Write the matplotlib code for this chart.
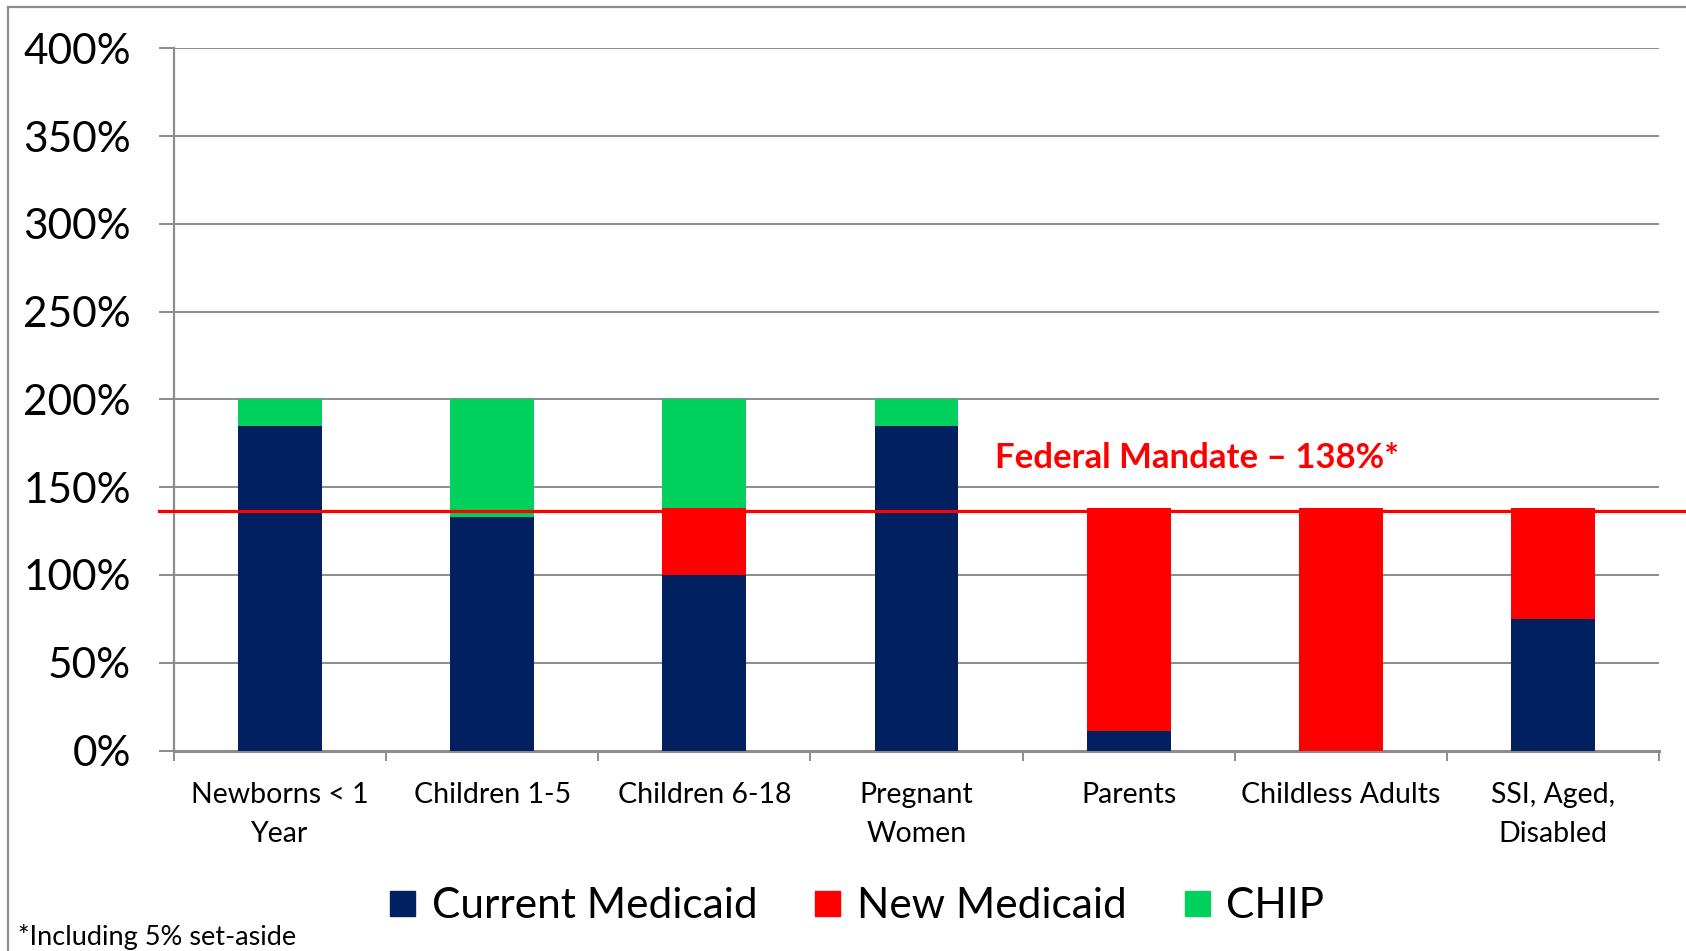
import numpy as np
import matplotlib
matplotlib.use('Agg')
import matplotlib.pyplot as plt
from matplotlib.lines import Line2D

plt.rcParams['font.family'] = ['Lato', 'DejaVu Sans']

# data (% of federal poverty level)
categories = ['Newborns < 1\nYear', 'Children 1-5', 'Children 6-18', 'Pregnant\nWomen',
              'Parents', 'Childless Adults', 'SSI, Aged,\nDisabled']
current_medicaid = [185, 133, 100, 185, 11, 0, 75]
new_medicaid = [0, 0, 38, 0, 127, 138, 63]
chip = [15, 67, 62, 15, 0, 0, 0]
yticks = [0, 50, 100, 150, 200, 250, 300, 350, 400]
mandate_level = 136.5
mandate_label = 'Federal Mandate \u2013 138%*'
footnote = '*Including 5% set-aside'

navy = '#002060'
red = '#FF0000'
green = '#00D05C'
grid_gray = '#8C8C8C'

W, H = 1686, 951
fig = plt.figure(figsize=(W / 100, H / 100), dpi=100)
ax = fig.add_axes([174 / W, 1 - 750.5 / H, (1659 - 174) / W, (750.5 - 48.4) / H])

x = np.arange(len(categories))
cur = np.array(current_medicaid)
new = np.array(new_medicaid)
ch = np.array(chip)
bw = 0.395
ax.bar(x, cur, bw, color=navy, zorder=3)
ax.bar(x, new, bw, bottom=cur, color=red, zorder=3)
ax.bar(x, ch, bw, bottom=cur + new, color=green, zorder=3)

ax.set_xlim(-0.5, len(categories) - 0.5)
ax.set_ylim(0, 400)
ax.set_yticks(yticks)
ax.set_yticklabels(['%d%%' % v for v in yticks], fontsize=30.5)
ax.yaxis.grid(True, color=grid_gray, linewidth=1.4, zorder=0)
ax.tick_params(axis='y', length=11, width=1.4, color=grid_gray, pad=20)

ax.set_xticks(x)
ax.set_xticklabels(categories, fontsize=20.5, linespacing=1.6)
ax.set_xticks(np.arange(-0.5, len(categories)), minor=True)
ax.tick_params(axis='x', which='major', length=0, pad=23)
ax.tick_params(axis='x', which='minor', length=7, width=1.4, color=grid_gray)

for s in ['top', 'right']:
    ax.spines[s].set_visible(False)
ax.spines['left'].set_color(grid_gray)
ax.spines['left'].set_linewidth(1.6)
ax.spines['bottom'].set_color(grid_gray)
ax.spines['bottom'].set_linewidth(2.2)

# federal mandate line
ax.axhline(mandate_level, xmin=(159 - 174) / 1485, xmax=(W - 174) / 1485,
           color=red, linewidth=2.3, clip_on=False, zorder=4)
ax.text(3.37, 161, mandate_label, color=red, fontsize=25, fontweight='bold',
        va='baseline', ha='left', zorder=5)

# legend
handles = [Line2D([], [], marker='s', linestyle='none', markersize=18, color=c)
           for c in [navy, red, green]]
fig.legend(handles, ['Current Medicaid', 'New Medicaid', 'CHIP'], loc='center',
           bbox_to_anchor=(0.507, 1 - 906 / H), ncol=3, frameon=False, fontsize=30.5,
           handletextpad=0.3, columnspacing=1.25, handlelength=0.8)

fig.text(18 / W, 1 - 945 / H, footnote, fontsize=19.5, va='baseline', ha='left')

# outer frame
fig.add_artist(Line2D([8 / W, 1], [1 - 7 / H, 1 - 7 / H], color=grid_gray, linewidth=1.6))
fig.add_artist(Line2D([8 / W, 8 / W], [0, 1 - 7 / H], color=grid_gray, linewidth=1.6))

fig.savefig('out.png', dpi=100)
